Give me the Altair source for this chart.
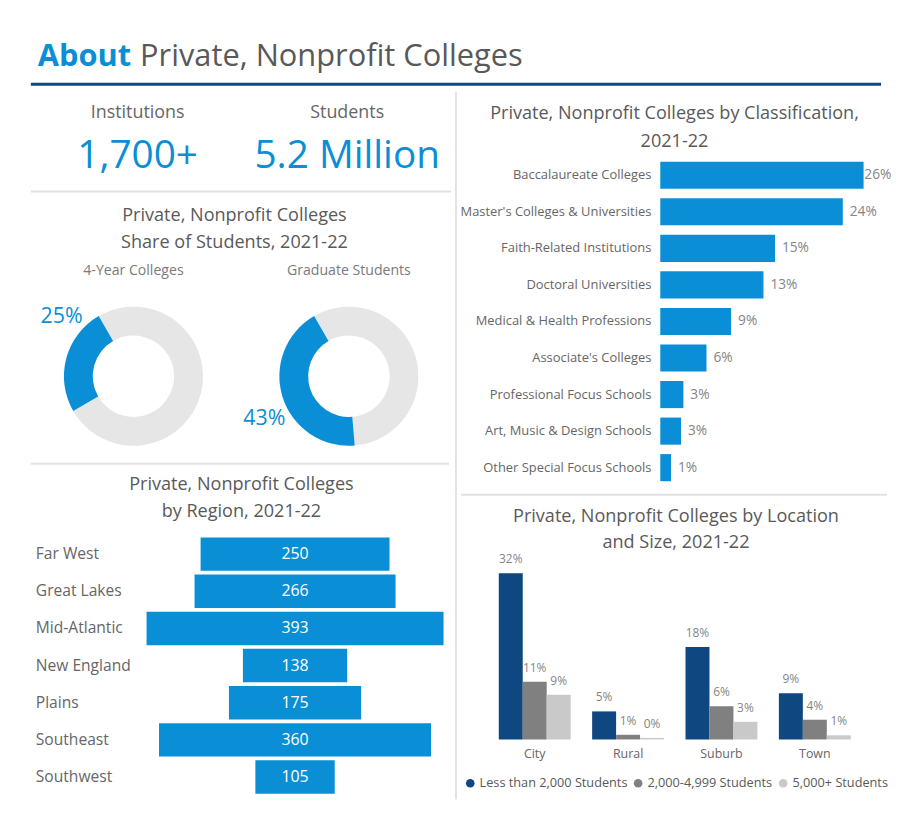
import math
import altair as alt
import pandas as pd

FONT = "Open Sans"
BLUE = "#0a8fd6"
NAVY = "#0f4781"
MIDGREY = "#808080"
LIGHTGREY = "#c9c9c9"
RING = "#e6e6e6"
TITLE_C = "#595959"
LABEL_C = "#666666"
VALUE_C = "#858585"
DIVIDER = "#e2e2e2"

# ---------------- data ----------------
header_words = ["About", "Private, Nonprofit Colleges"]
kpi_titles = ["Institutions", "Students"]
kpi_values = ["1,700+", "5.2 Million"]

donut_title = ["Private, Nonprofit Colleges", "Share of Students, 2021-22"]
donut_names = ["4-Year Colleges", "Graduate Students"]
donut_share = [25, 43]

region_title = ["Private, Nonprofit Colleges", "by Region, 2021-22"]
regions = ["Far West", "Great Lakes", "Mid-Atlantic", "New England", "Plains", "Southeast", "Southwest"]
region_counts = [250, 266, 393, 138, 175, 360, 105]

class_title = ["Private, Nonprofit Colleges by Classification,", "2021-22"]
classes = ["Baccalaureate Colleges", "Master's Colleges & Universities", "Faith-Related Institutions",
           "Doctoral Universities", "Medical & Health Professions", "Associate's Colleges",
           "Professional Focus Schools", "Art, Music & Design Schools", "Other Special Focus Schools"]
class_pct = [26.4, 23.7, 14.9, 13.4, 9.2, 6.0, 3.0, 2.7, 1.4]

loc_title = ["Private, Nonprofit Colleges by Location", "and Size, 2021-22"]
locations = ["City", "Rural", "Suburb", "Town"]
size_groups = ["Less than 2,000 Students", "2,000-4,999 Students", "5,000+ Students"]
small_pct = [32.0, 5.4, 17.8, 8.9]
mid_pct = [11.1, 0.9, 6.4, 3.8]
large_pct = [8.6, 0.3, 3.4, 0.8]

# ---------------- layout ----------------
W_L, W_R = 447, 435
W = W_L + W_R
H_HEAD = 80
H_KPI, H_DONUT, H_REGION = 101, 274, 348
H_CLASS, H_LOC = 407, 316
TS = 18.2  # panel title size

ONE = pd.DataFrame({"k": [0]})


def hline(x1, x2, y, color=DIVIDER, width=2):
    return alt.Chart(ONE).mark_rule(color=color, strokeWidth=width).encode(
        x=alt.value(x1), x2=alt.value(x2), y=alt.value(y))


def vline(x, y1, y2, color=DIVIDER, width=2):
    return alt.Chart(ONE).mark_rule(color=color, strokeWidth=width).encode(
        x=alt.value(x), y=alt.value(y1), y2=alt.value(y2))


def text_block(lines, x, y, size, color=TITLE_C, align="center", weight="normal", line_height=27):
    return alt.Chart(ONE).mark_text(
        text=lines, align=align, baseline="alphabetic", font=FONT, fontSize=size,
        fontWeight=weight, color=color, lineHeight=line_height
    ).encode(x=alt.value(x), y=alt.value(y))


# ---------------- header ----------------
header = alt.layer(
    text_block(header_words[0], 29, 55, 31, BLUE, "left", "bold"),
    text_block(header_words[1], 132, 55, 31, TITLE_C, "left"),
    hline(22, 878, 73, NAVY, 3),
).properties(width=W, height=H_HEAD)

# ---------------- KPI ----------------
kpi_df = pd.DataFrame({"title": kpi_titles, "value": kpi_values})
kx = alt.X("title:N", scale=alt.Scale(type="point", domain=kpi_titles, range=[129.5, 340.5], padding=0), axis=None)
kpi = alt.layer(
    alt.Chart(kpi_df).mark_text(font=FONT, fontSize=18, color=LABEL_C, baseline="alphabetic").encode(
        x=kx, y=alt.value(27), text="title:N"),
    alt.Chart(kpi_df).mark_text(font=FONT, fontSize=39, color=BLUE, baseline="alphabetic").encode(
        x=kx, y=alt.value(77), text="value:N"),
).properties(width=W_L, height=H_KPI)

# ---------------- donuts ----------------
rows = []
for name, s in zip(donut_names, donut_share):
    rows.append({"chart": name, "part": "Other", "start": 0, "end": 100 - s})
    rows.append({"chart": name, "part": "Private, Nonprofit", "start": 100 - s, "end": 100})
donut_df = pd.DataFrame(rows)
T0 = 2 * math.pi - math.radians(30)
dxs = alt.X("chart:N", scale=alt.Scale(type="point", domain=donut_names, range=[125.3, 342.2], padding=0), axis=None)
arcs = alt.Chart(donut_df).mark_arc(innerRadius=41, outerRadius=70).encode(
    x=dxs, y=alt.value(186),
    theta=alt.Theta("start:Q", scale=alt.Scale(domain=[0, 100], range=[T0, T0 + 2 * math.pi]), stack=False),
    theta2="end:Q",
    color=alt.Color("part:N", scale=alt.Scale(domain=["Other", "Private, Nonprofit"], range=[RING, BLUE]), legend=None),
)
donut_names_df = pd.DataFrame({"chart": donut_names})
donut = alt.layer(
    hline(22, 445, 0),
    text_block(donut_title, 227, 30, TS, TITLE_C, line_height=26.7),
    alt.Chart(donut_names_df).mark_text(font=FONT, fontSize=14.2, color="#7a7a7a", baseline="alphabetic").encode(
        x=dxs, y=alt.value(84.5), text="chart:N"),
    arcs,
    text_block(f"{donut_share[0]}%", 53, 132, 21.5, BLUE),
    text_block(f"{donut_share[1]}%", 257, 235.5, 21.5, BLUE),
).properties(width=W_L, height=H_DONUT)

# ---------------- region ----------------
reg_df = pd.DataFrame({"region": regions, "count": region_counts})
reg_df["lo"] = -reg_df["count"] / 2
reg_df["hi"] = reg_df["count"] / 2
ry = alt.Y("region:N", sort=regions,
           scale=alt.Scale(domain=regions, range=[72.4, 334.2], paddingInner=0.1, paddingOuter=0.05), axis=None)
rx = alt.X("lo:Q", scale=alt.Scale(domain=[-196.5, 196.5], range=[138.5, 437.5], nice=False, zero=False), axis=None)
region = alt.layer(
    hline(22, 443, 0),
    text_block(region_title, 234, 26.5, TS, TITLE_C, line_height=27.3),
    alt.Chart(reg_df).mark_bar(color=BLUE).encode(x=rx, x2="hi:Q", y=ry),
    alt.Chart(reg_df).mark_text(font=FONT, fontSize=16, color="white", baseline="middle").encode(
        x=alt.datum(0), y=ry, text="count:Q"),
    alt.Chart(reg_df).mark_text(font=FONT, fontSize=15.7, color=LABEL_C, align="left", baseline="middle").encode(
        x=alt.value(27), y=ry, text="region:N"),
).properties(width=W_L, height=H_REGION)

# ---------------- classification ----------------
cls_df = pd.DataFrame({"cls": classes, "pct": class_pct})
cy = alt.Y("cls:N", sort=classes,
           scale=alt.Scale(domain=classes, range=[66.25, 397.45], paddingInner=0.258, paddingOuter=0.129), axis=None)
cx = alt.X("pct:Q", scale=alt.Scale(domain=[0, 26.4], range=[205.7, 410.4], nice=False), axis=None)
classification = alt.layer(
    vline(0, 1, H_CLASS),
    text_block(class_title, 220, 28, TS, TITLE_C, line_height=28.3),
    alt.Chart(cls_df).mark_bar(color=BLUE).encode(x=cx, y=cy),
    alt.Chart(cls_df).mark_text(font=FONT, fontSize=13, color=LABEL_C, align="right", baseline="middle").encode(
        x=alt.value(196.7), y=cy, text="cls:N"),
    alt.Chart(cls_df).transform_calculate(
        lbl="format(datum.pct, '.0f') + '%'",
        pos="min(datum.pct + 0.9, 26.5)",
    ).mark_text(font=FONT, fontSize=13.8, color=VALUE_C, align="left", baseline="middle").encode(
        x=alt.X("pos:Q", scale=alt.Scale(domain=[0, 26.4], range=[205.7, 410.4], nice=False), axis=None),
        y=cy, text="lbl:N"),
    hline(5, 434, 406.3),
).properties(width=W_R, height=H_CLASS)

# ---------------- location & size ----------------
loc_rows = []
for i, loc in enumerate(locations):
    for g, arr in zip(size_groups, [small_pct, mid_pct, large_pct]):
        loc_rows.append({"loc": loc, "size": g, "pct": arr[i]})
loc_df = pd.DataFrame(loc_rows)
lx = alt.X("loc:N", sort=locations,
           scale=alt.Scale(domain=locations, range=[32.3, 408.3], paddingInner=0.23, paddingOuter=0.115), axis=None)
lxo = alt.XOffset("size:N", sort=size_groups, scale=alt.Scale(domain=size_groups, paddingInner=0, paddingOuter=0))
ly = alt.Y("pct:Q", scale=alt.Scale(domain=[0, 32], range=[245.7, 78.3], nice=False), axis=None)
lcolor = alt.Color(
    "size:N", sort=size_groups,
    scale=alt.Scale(domain=size_groups, range=[NAVY, MIDGREY, LIGHTGREY]),
    legend=alt.Legend(orient="none", legendX=8, legendY=283, direction="horizontal", title=None,
                      symbolType="circle", symbolSize=75, symbolStrokeWidth=0, labelFont=FONT,
                      labelFontSize=12.8, labelColor=TITLE_C, labelLimit=0, columnPadding=4, labelOffset=3),
)
locs_df = pd.DataFrame({"loc": locations})
location = alt.layer(
    vline(0, 0, 306),
    text_block(loc_title, 221.5, 26.7, TS, TITLE_C, line_height=26.7),
    alt.Chart(loc_df).mark_bar().encode(x=lx, xOffset=lxo, y=ly, color=lcolor),
    alt.Chart(loc_df).transform_calculate(lbl="format(datum.pct, '.0f') + '%'").mark_text(
        font=FONT, fontSize=12, color=VALUE_C, baseline="alphabetic", dy=-10).encode(
        x=lx, xOffset=lxo, y=ly, text="lbl:N"),
    alt.Chart(locs_df).mark_text(font=FONT, fontSize=12.5, color=LABEL_C, baseline="alphabetic").encode(
        x=lx, y=alt.value(264.3), text="loc:N"),
).properties(width=W_R, height=H_LOC)

left = alt.vconcat(kpi, donut, region, spacing=0, bounds="flush")
right = alt.vconcat(classification, location, spacing=0, bounds="flush").resolve_scale(color="independent")
body = alt.hconcat(left, right, spacing=0, bounds="full").resolve_scale(color="independent")

chart = alt.vconcat(header, body, spacing=0, bounds="flush").resolve_scale(color="independent").properties(
    padding=0, background="white"
).configure(font=FONT).configure_view(stroke="transparent")

chart.save("out.html", embed_options={"renderer": "svg", "actions": False})
